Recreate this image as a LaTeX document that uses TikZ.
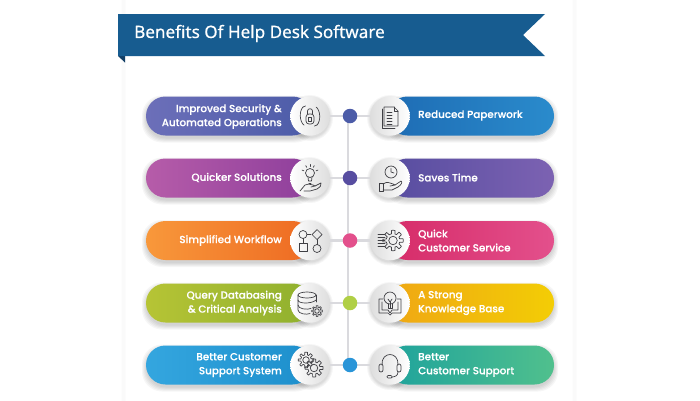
\documentclass[tikz,border=0pt]{standalone}
\usepackage{fontspec}
\setmainfont[FakeBold=0.2]{Poppins Medium}
\newfontfamily\titlefont[FakeBold=0.5]{Noto Sans}
\usetikzlibrary{backgrounds}
\definecolor{bannerblue}{HTML}{175C90}
\definecolor{bannerdark}{HTML}{123F66}
\definecolor{iconink}{HTML}{3F3F44}
\definecolor{linegrey}{HTML}{DADADE}
\definecolor{la1}{HTML}{6C6FB9}\definecolor{la2}{HTML}{4C5CA8}
\definecolor{ra1}{HTML}{1E6CB4}\definecolor{ra2}{HTML}{2A8BCC}
\definecolor{lb1}{HTML}{B65CA9}\definecolor{lb2}{HTML}{8E3F9C}
\definecolor{rb1}{HTML}{574DA0}\definecolor{rb2}{HTML}{7C62B2}
\definecolor{lc1}{HTML}{F8983B}\definecolor{lc2}{HTML}{EE6A22}
\definecolor{rc1}{HTML}{D62B68}\definecolor{rc2}{HTML}{E3508C}
\definecolor{ld1}{HTML}{B6C435}\definecolor{ld2}{HTML}{8FB02E}
\definecolor{rd1}{HTML}{EFA714}\definecolor{rd2}{HTML}{F3CD05}
\definecolor{le1}{HTML}{34A6DF}\definecolor{le2}{HTML}{1D8FCC}
\definecolor{re1}{HTML}{1FA39C}\definecolor{re2}{HTML}{50C08D}
\definecolor{da}{HTML}{4C5CA8}\definecolor{db}{HTML}{574DA0}
\definecolor{dc}{HTML}{E3508C}\definecolor{dd}{HTML}{B0CF45}\definecolor{de}{HTML}{2A95D8}
\tikzset{
  x=1pt,y=-1pt,
  pill/.style={rounded corners=19.5pt,minimum width=166pt,minimum height=39pt,inner sep=0pt},
  hub/.style={circle,minimum size=39.5pt,inner sep=0pt},
  hubL/.style={hub,left color=white,right color=black!13},
  hubR/.style={hub,left color=black!13,right color=white},
  dotnode/.style={circle,minimum size=14.5pt,inner sep=0pt},
  conn/.style={draw=linegrey,line width=2.4pt},
  lefttext/.style={text=white,font=\fontsize{10.35}{14}\selectfont,align=right,anchor=east,inner sep=0pt},
  righttext/.style={text=white,font=\fontsize{10.35}{14}\selectfont,align=left,anchor=west,inner sep=0pt},
  ico/.style={draw=iconink,line width=.7pt,line cap=round,line join=round},
}
\newcommand\softshadow[4]{%
  \foreach \g in {0,1,2,3,4}{
    \fill[black,opacity=.035,rounded corners=20pt]
      ({#1-\g},{#2+3-\g}) rectangle ({#3+\g},{#4+3+\g});
  }}
\newcommand\softdisc[3]{%
  \foreach \g in {0,1,2,3}{
    \fill[black,opacity=.035] ({#1},{#2+2}) circle ({#3+\g});
  }}
\newcommand\gearico[3]{%
  \draw[ico] plot[samples=73,domain=0:355] ({#1+(#3+.2*#3*sign(cos(8*\x)))*cos(\x)},{#2+(#3+.2*#3*sign(cos(8*\x)))*sin(\x)}) -- cycle;
  \draw[ico] ({#1},{#2}) circle ({.5*#3});
}
\begin{document}
\begin{tikzpicture}
\useasboundingbox (0,0) rectangle (700,400);
\begin{pgfonlayer}{background}
  \fill[white] (0,0) rectangle (700,400);
  \foreach \g in {0,1,2,3}{
    \draw[black,opacity=.02,line width=1pt,rounded corners=8pt] ({125-\g},-20) rectangle ({573+\g},420);
  }
  \foreach \y in {116,178,240.5,303,365}{
    \softshadow{146}{\y-19.5}{312}{\y+19.5}
    \softshadow{388}{\y-19.5}{554}{\y+19.5}
    \softdisc{310}{\y}{20}
    \softdisc{390}{\y}{20}
  }
\end{pgfonlayer}

% banner
\fill[bannerdark] (118,56) -- (125,62.5) -- (125,56) -- cycle;
\fill[bannerblue] (118,14) -- (545,14) -- (523,35) -- (545,56) -- (118,56) -- cycle;
\node[anchor=west,inner sep=0pt,text=white,font=\titlefont\fontsize{17.1}{20}\selectfont] (title) at (134,33.5) {Benefits Of Help Desk Software};

% pills
\node[pill,left color=la1,right color=la2] (pl1) at (229,116) {};
\node[pill,left color=ra1,right color=ra2] (pr1) at (471,116) {};
\node[pill,left color=lb1,right color=lb2] (pl2) at (229,178) {};
\node[pill,left color=rb1,right color=rb2] (pr2) at (471,178) {};
\node[pill,left color=lc1,right color=lc2] (pl3) at (229,240.5) {};
\node[pill,left color=rc1,right color=rc2] (pr3) at (471,240.5) {};
\node[pill,left color=ld1,right color=ld2] (pl4) at (229,303) {};
\node[pill,left color=rd1,right color=rd2] (pr4) at (471,303) {};
\node[pill,left color=le1,right color=le2] (pl5) at (229,365) {};
\node[pill,left color=re1,right color=re2] (pr5) at (471,365) {};

% texts
\node[lefttext] (tl1) at (282,116.5) {Improved Security \&\\Automated Operations};
\node[righttext] (tr1) at (418,115.5) {Reduced Paperwork};
\node[lefttext] (tl2) at (282,177.5) {Quicker Solutions};
\node[righttext] (tr2) at (418,177.5) {Saves Time};
\node[lefttext] (tl3) at (282,240.5) {Simplified Workflow};
\node[righttext] (tr3) at (418,240.5) {Quick\\Customer Service};
\node[lefttext] (tl4) at (282,303) {Query Databasing\\\& Critical Analysis};
\node[righttext] (tr4) at (418,303) {A Strong\\Knowledge Base};
\node[lefttext] (tl5) at (282,365) {Better Customer\\Support System};
\node[righttext] (tr5) at (418,365) {Better\\Customer Support};

% hubs
\foreach \n/\y in {1/116,2/178,3/240.5,4/303,5/365}{
  \node[hubL] (hl\n) at (310,\y) {};
  \node[hubR] (hr\n) at (390,\y) {};
}
% dots
\node[dotnode,fill=da] (d1) at (350,116) {};
\node[dotnode,fill=db] (d2) at (350,178) {};
\node[dotnode,fill=dc] (d3) at (350,240.5) {};
\node[dotnode,fill=dd] (d4) at (350,303) {};
\node[dotnode,fill=de] (d5) at (350,365) {};

% connectors
\begin{pgfonlayer}{background}
  \foreach \n in {1,...,5}{
    \draw[conn] (hl\n) -- (d\n);
    \draw[conn] (d\n) -- (hr\n);
  }
  \draw[conn] ([xshift=-2pt]d1.center) -- ([xshift=-2pt]d2.center);
  \draw[conn] ([xshift=-2pt]d2.center) -- ([xshift=-2pt]d3.center);
  \draw[conn] ([xshift=-2pt]d3.center) -- ([xshift=-2pt]d4.center);
  \draw[conn] ([xshift=-2pt]d4.center) -- ([xshift=-2pt]d5.center);
\end{pgfonlayer}

% ---- icons ----
% lock
\begin{scope}[shift={(310,116)}]
  \draw[ico,rounded corners=3pt] (-4,-2) rectangle (4,8);
  \draw[ico] (-2.5,-2) -- (-2.5,-5) .. controls (-2.5,-8) and (2.5,-8) .. (2.5,-5) -- (2.5,-2);
  \draw[ico] (-1.5,1) rectangle (1.5,5);
  \draw[ico] (6,-9) .. controls (10.5,-6) and (11,5) .. (7,9);
  \draw[ico] (-6,9) .. controls (-10.5,6) and (-11,-5) .. (-7,-9);
  \draw[ico] (-7,-9) -- (-4.5,-10);
  \draw[ico] (7,9) -- (4.5,10);
\end{scope}
% document
\begin{scope}[shift={(390,116)}]
  \draw[ico] (-6,-9) -- (4,-9) -- (8,-5) -- (8,10) -- (-6,10) -- cycle;
  \draw[ico] (4,-9) -- (4,-5) -- (8,-5);
  \draw[ico] (-8,-7) -- (-8,12) -- (5,12);
  \foreach \yy in {-4,-1,2,5,8}{\draw[ico] (-3,\yy) -- (2,\yy);}
\end{scope}
% hand + bulb
\begin{scope}[shift={(310,178)}]
  \draw[ico] (0,-5) circle (4.5);
  \draw[ico] (-2,-1) -- (-1.5,3) -- (1.5,3) -- (2,-1);
  \draw[ico] (-1,5) -- (1,5);
  \foreach \a in {-160,-120,-90,-60,-20}{\draw[ico] (\a:6.5) ++(0,-5) -- ++(\a:2);}
  \draw[ico] (-10,13) -- (-5,7) .. controls (-3,5.5) and (0,6) .. (3,7) -- (5,8) -- (1,9);
  \draw[ico] (5,8) -- (11,5) .. controls (12,7) and (10,9) .. (7,11) -- (0,13) -- (-6,13);
\end{scope}
% clock + hand
\begin{scope}[shift={(390,178)}]
  \draw[ico] (1,-6) circle (6);
  \draw[ico] (1,-9.5) -- (1,-6) -- (4,-5);
  \draw[ico] (-11,5) rectangle (-7,13);
  \draw[ico] (-7,6) .. controls (-3,3) and (0,5) .. (3,6) -- (5,7) -- (0,8);
  \draw[ico] (5,7) -- (11,3) .. controls (13,4) and (11,7) .. (8,9) -- (2,12) -- (-7,12);
\end{scope}
% flow
\begin{scope}[shift={(310,240.5)}]
  \draw[ico] (-7,-6) circle (4);
  \draw[ico] (-3,-6) -- (1,-6);
  \draw[ico] (7,-11) -- (12,-6) -- (7,-1) -- (2,-6) -- cycle;
  \draw[ico] (-7,-2) -- (-7,3);
  \draw[ico] (7,-1) -- (7,4);
  \draw[ico] (-11,3) rectangle (-3,11);
  \draw[ico] (7,8) circle (4);
\end{scope}
% gear + speed lines
\begin{scope}[shift={(390,240.5)}]
  \gearico{3}{0}{8.5}
  \foreach \yy in {-6,-3,0,3,6}{\draw[ico] (-12,\yy) -- (-5,\yy);}
\end{scope}
% database + gear
\begin{scope}[shift={(310,303)}]
  \draw[ico] (-3,-8) ellipse (9 and 3);
  \draw[ico] (-12,-8) -- (-12,7) .. controls (-12,11) and (-3,12) .. (0,10.5);
  \draw[ico] (6,-8) -- (6,-1);
  \draw[ico] (-12,-3) .. controls (-12,1) and (2,1) .. (6,-3);
  \draw[ico] (-12,2) .. controls (-12,6) and (-3,7) .. (1,5.5);
  \gearico{7}{8}{4.5}
\end{scope}
% book + bulb
\begin{scope}[shift={(390,303)}]
  \draw[ico] (0,-5) circle (6);
  \draw[ico] (-2,1) -- (-2,5) -- (2,5) -- (2,1);
  \draw[ico] (-2,-4) -- (0,-1) -- (2,-4);
  \draw[ico] (0,-1) -- (0,5);
  \draw[ico] (-7,-4) -- (-11,-4) -- (-11,10) -- (-2,10) -- (0,12) -- (2,10) -- (11,10) -- (11,-4) -- (7,-4);
  \draw[ico] (-8,-1) -- (-8,7) -- (-2,7) -- (0,10) -- (2,7) -- (8,7) -- (8,-1);
\end{scope}
% gears
\begin{scope}[shift={(310,365)}]
  \gearico{-4}{-5}{6.5}
  \gearico{4}{3}{7.5}
\end{scope}
% headset
\begin{scope}[shift={(390,365)}]
  \draw[ico] (-8,0) .. controls (-9,-14) and (9,-14) .. (8,0);
  \draw[ico,rounded corners=2pt] (-11,-1) rectangle (-7,7);
  \draw[ico,rounded corners=2pt] (7,-1) rectangle (11,7);
  \draw[ico] (8,7) .. controls (8,11) and (4,12) .. (2,12);
  \draw[ico,rounded corners=1pt] (-3,10.5) rectangle (2,13);
\end{scope}
\end{tikzpicture}
\end{document}
